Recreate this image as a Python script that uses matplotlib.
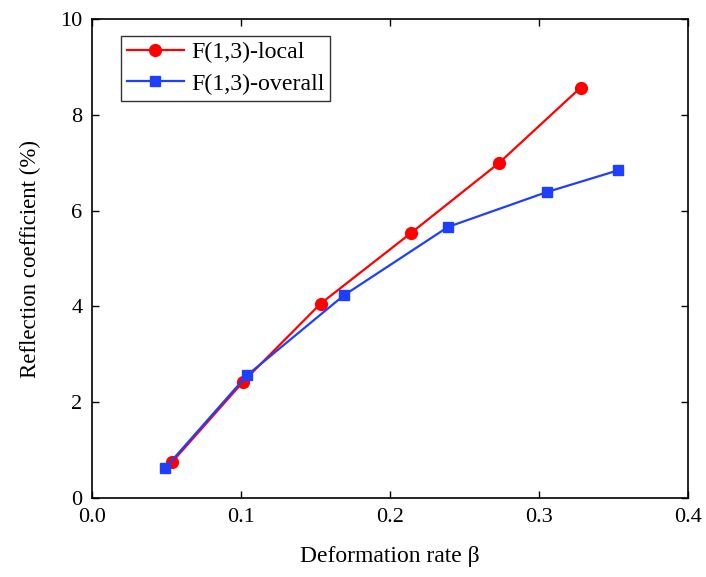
import matplotlib
matplotlib.use("Agg")
import matplotlib.pyplot as plt

# Deformation rate and reflection coefficient (%) for the two cases
beta_local = [0.054, 0.1015, 0.1535, 0.214, 0.273, 0.328]
refl_local = [0.76, 2.43, 4.06, 5.53, 6.99, 8.57]

beta_overall = [0.049, 0.104, 0.169, 0.239, 0.3055, 0.353]
refl_overall = [0.62, 2.56, 4.23, 5.66, 6.39, 6.84]

xticks = [0.0, 0.1, 0.2, 0.3, 0.4]
xtick_labels = ["0.0", "0.1", "0.2", "0.3", "0.4"]
yticks = [0, 2, 4, 6, 8, 10]

plt.rcParams["font.family"] = ["Liberation Serif", "DejaVu Serif"]
plt.rcParams["mathtext.fontset"] = "stix"

fig = plt.figure(figsize=(7.06, 5.77), dpi=100)
ax = fig.add_axes([0.1303, 0.1369, 0.8442, 0.8301])

ax.plot(beta_local, refl_local, color="#FF0000", lw=1.6, marker="o",
        markersize=8.5, label="F(1,3)-local")
ax.plot(beta_overall, refl_overall, color="#1F3FFF", lw=1.6, marker="s",
        markersize=7.5, label="F(1,3)-overall")

ax.set_xlim(0, 0.4)
ax.set_ylim(0, 10)
ax.set_xticks(xticks)
ax.set_xticklabels(xtick_labels)
ax.set_yticks(yticks)

ax.tick_params(direction="in", top=True, right=True, length=5, width=1,
               labelsize=16, pad=7)
for s in ax.spines.values():
    s.set_linewidth(1.2)

ax.set_xlabel("Deformation rate β", fontsize=17, labelpad=14)
ax.set_ylabel("Reflection coefficient (%)", fontsize=16.5, labelpad=14)

leg = ax.legend(loc="upper left", bbox_to_anchor=(0.048, 0.965), fontsize=17.2,
                frameon=True, fancybox=False, edgecolor="black",
                handlelength=2.4, borderpad=0.25, labelspacing=0.4,
                handletextpad=0.3, borderaxespad=0.0)
leg.get_frame().set_linewidth(1.0)

fig.savefig("out.png", dpi=100)
